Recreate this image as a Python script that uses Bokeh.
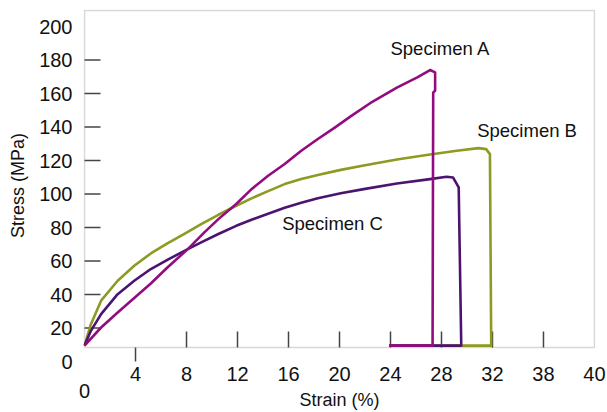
from bokeh.plotting import figure
from bokeh.models import FixedTicker, Range1d, ColumnDataSource, LinearAxis, BoxAnnotation
from bokeh.core.properties import value
from bokeh.embed import file_html
from bokeh.resources import INLINE

# ---- data (strain %, stress MPa) ----
strain_a = [0, 1.3, 2.6, 3.9, 5.2, 6.5, 8.1, 9.4, 10.5, 11.9, 13.1, 14.4, 15.7, 17.0,
            18.3, 19.6, 20.9, 22.4, 24.5, 26.1, 27.1, 27.5, 27.5, 27.35, 27.3, 23.9]
stress_a = [9.5, 20.3, 29.3, 37.9, 46.6, 56.1, 67.1, 77.1, 85.0, 94.0, 102.9, 110.9, 117.9, 125.8,
            132.8, 139.5, 146.5, 154.2, 163.5, 169.6, 174.0, 172.6, 161.6, 160.6, 9.5, 9.5]

strain_b = [0, 0.5, 1.3, 2.6, 3.9, 5.2, 6.5, 7.8, 9.15, 10.5, 11.9, 13.1, 14.4, 15.7, 17.0,
            18.3, 20.1, 21.9, 24.5, 27.1, 29.2, 30.9, 31.5, 31.8, 31.9, 23.9]
stress_b = [9.5, 22.3, 36.3, 48.2, 57.2, 64.5, 70.5, 76.1, 82.0, 87.6, 93.0, 97.4, 101.7, 105.9, 108.9,
            111.4, 114.4, 117.0, 120.6, 123.6, 125.8, 127.4, 126.8, 123.8, 9.5, 9.5]

strain_c = [0, 0.5, 1.3, 2.6, 3.9, 5.2, 6.5, 8.1, 9.15, 10.5, 11.9, 13.1, 14.4, 15.7, 17.0,
            18.3, 20.1, 21.9, 24.5, 27.1, 28.4, 28.9, 29.35, 29.55, 23.9]
stress_c = [9.5, 18.3, 28.3, 40.2, 48.2, 55.2, 60.7, 67.1, 71.1, 76.1, 81.0, 84.6, 88.2, 91.8, 94.8,
            97.5, 100.4, 102.9, 106.3, 108.9, 110.3, 109.9, 103.9, 9.5, 9.5]

specimen_names = ["Specimen A", "Specimen B", "Specimen C"]

x_tick_values = [4, 8, 12, 16, 20, 24, 28, 32, 36, 40]
x_tick_labels = ["4", "8", "12", "16", "20", "24", "28", "32", "38", "40"]
y_tick_values = [0, 20, 40, 60, 80, 100, 120, 140, 160, 180, 200]
y_tick_labels = ["0", "20", "40", "60", "80", "100", "120", "140", "160", "180", "200"]

FONT = "Liberation Sans"
TXT = "#111111"
GRID = "#7f7f7f"
TICK = "#444444"
X0, X1 = 0, 40            # plotted box, strain
YB, YT = 8.4, 209.55      # plotted box, stress

p = figure(width=607, height=412, output_backend="svg", toolbar_location=None,
           x_range=Range1d(-0.08, 40.08), y_range=Range1d(0, 210.15),
           min_border_left=83, min_border_right=12, min_border_top=9, min_border_bottom=51,
           background_fill_color="white", border_fill_color="white")
p.grid.visible = False
p.outline_line_color = None

# visible plot box
p.add_layout(BoxAnnotation(left=X0, right=X1, bottom=YB, top=YT, fill_color=None,
                           line_color=GRID, line_width=1.5, level="underlay"))

# y axis: labels only, ticks drawn inside
yax = p.yaxis[0]
yax.ticker = FixedTicker(ticks=y_tick_values)
yax.major_label_overrides = {v: l for v, l in zip(y_tick_values, y_tick_labels)}
yax.major_tick_line_color = None
yax.minor_tick_line_color = None
yax.major_tick_in = 0
yax.major_tick_out = 0
yax.axis_line_color = None
yax.major_label_standoff = 11
yax.major_label_text_font = FONT
yax.major_label_text_font_size = "20px"
yax.major_label_text_color = TXT
yax.axis_label = "Stress (MPa)"
yax.axis_label_text_font = FONT
yax.axis_label_text_font_size = "18px"
yax.axis_label_text_font_style = "normal"
yax.axis_label_text_color = TXT
yax.axis_label_standoff = 8

# x axis: tick labels
xax = p.xaxis[0]
xax.ticker = FixedTicker(ticks=x_tick_values)
xax.major_label_overrides = {v: l for v, l in zip(x_tick_values, x_tick_labels)}
xax.major_tick_line_color = None
xax.minor_tick_line_color = None
xax.major_tick_in = 0
xax.major_tick_out = 0
xax.axis_line_color = None
xax.major_label_standoff = 5
xax.major_label_text_font = FONT
xax.major_label_text_font_size = "20px"
xax.major_label_text_color = TXT

# second x axis below: the origin label and the axis title
xax2 = LinearAxis(ticker=FixedTicker(ticks=[0]))
xax2.major_tick_line_color = None
xax2.minor_tick_line_color = None
xax2.major_tick_in = 0
xax2.major_tick_out = 0
xax2.axis_line_color = None
xax2.major_label_standoff = 0
xax2.major_label_text_font = FONT
xax2.major_label_text_font_size = "20px"
xax2.major_label_text_color = TXT
xax2.axis_label = "Strain (%)"
xax2.axis_label_text_font = FONT
xax2.axis_label_text_font_size = "18px"
xax2.axis_label_text_font_style = "normal"
xax2.axis_label_text_color = TXT
xax2.axis_label_standoff = -11
p.add_layout(xax2, "below")

# tick marks (inward, except the one at 4 which points down)
px_per_x = 12.75
px_per_y = 1.675
y_in = [v for v in y_tick_values if 0 < v < 200]
p.segment(x0=[X0] * len(y_in), y0=y_in, x1=[X0 + 16 / px_per_x] * len(y_in), y1=y_in,
          line_color=TICK, line_width=1.5)
x_in = x_tick_values[1:-1]
p.segment(x0=x_in, y0=[YB] * len(x_in), x1=x_in, y1=[YB + 16 / px_per_y] * len(x_in),
          line_color=TICK, line_width=1.5)
x_out = x_tick_values[:1]
p.segment(x0=x_out, y0=[YB], x1=x_out, y1=[YB - 15 / px_per_y],
          line_color=TICK, line_width=1.5)

# curves (B, C, then A on top)
col_a, col_b, col_c = "#920c80", "#8e9a22", "#4c1470"
for xs, ys, c in [(strain_b, stress_b, col_b), (strain_c, stress_c, col_c), (strain_a, stress_a, col_a)]:
    p.line(xs, ys, line_color=c, line_width=2.6, line_join="round")

# specimen labels
src = ColumnDataSource(dict(x=[24.0, 30.8, 15.5], y=[186.9, 137.9, 82.2], t=specimen_names))
p.text(x="x", y="y", text="t", source=src, text_font=value(FONT), text_font_size="18.5px",
       text_align="left", text_baseline="middle", text_color=TXT)

open("out.html", "w").write(file_html(p, INLINE))
